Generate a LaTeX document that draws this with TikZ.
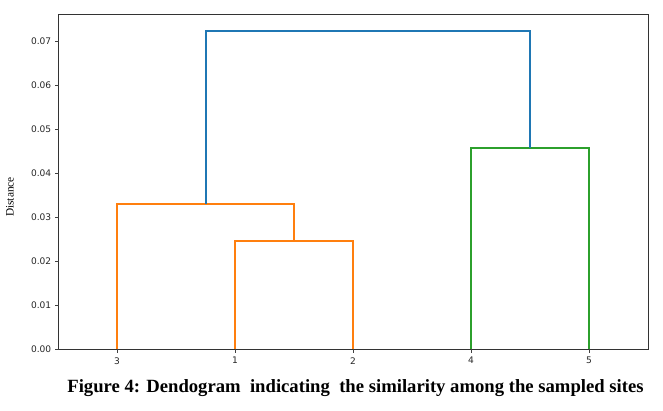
\documentclass[tikz,border=0pt]{standalone}
\usepackage{fontspec}
\setmainfont{Liberation Serif}
\newfontfamily\ticksfont{DejaVu Sans}
\definecolor{cblue}{HTML}{1F77B4}
\definecolor{corange}{HTML}{FF7F0E}
\definecolor{cgreen}{HTML}{2CA02C}
\begin{document}
\begin{tikzpicture}[x=0.75pt,y=-0.75pt,
  link/.style={line width=1.5*0.75pt, line join=miter},
  ticklab/.style={font=\ticksfont\fontsize{6.8pt}{8pt}\selectfont, text=black!85, inner sep=0pt},
  tickmark/.style={line width=0.6pt, black!75}]
\useasboundingbox (0,0) rectangle (663,410);
% leaf coordinates
\coordinate (L3) at (117,349);
\coordinate (L1) at (235,349);
\coordinate (L2) at (353,349);
\coordinate (L4) at (471,349);
\coordinate (L5) at (589,349);
% merge heights (px): y = 349 - 44*value/0.01
\coordinate (A1) at (235,241.2); \coordinate (A2) at (353,241.2); % 0.0245
\coordinate (B1) at (117,203.8); \coordinate (B2) at (294,203.8); % 0.033
\coordinate (G1) at (471,148); \coordinate (G2) at (589,148);     % 0.0457
\coordinate (T1) at (206,30.9); \coordinate (T2) at (530,30.9);   % 0.0723
% links
\draw[link, corange] (L1) -- (A1) -- (A2) -- (L2);
\draw[link, corange] (L3) -- (B1) -- (B2) -- (294,241.2);
\draw[link, cgreen] (L4) -- (G1) -- (G2) -- (L5);
\draw[link, cblue] (206,203.8) -- (T1) -- (T2) -- (530,148);
% axes box
\draw[line width=0.75pt, black!80] (58.5,15) rectangle (648.5,349);
% y ticks
\foreach \v/\lab in {0/0.00,1/0.01,2/0.02,3/0.03,4/0.04,5/0.05,6/0.06,7/0.07}{
  \draw[tickmark] (58.5,349-44*\v) -- (54.5,349-44*\v);
  \node[ticklab, anchor=east] (yt\v) at (51.5,349-44*\v) {\lab};
}
% x ticks
\foreach \n/\x in {3/117,1/235,2/353,4/471,5/589}{
  \draw[tickmark] (\x,349) -- (\x,353);
  \node[ticklab, anchor=north] (xt\n) at (\x,357) {\n};
}
% y label
\node[rotate=90, font=\fontsize{8.5pt}{9pt}\selectfont, inner sep=0pt] (ylab) at (10,197) {Distance};
% caption
\node[font=\bfseries\fontsize{14pt}{16pt}\selectfont, inner sep=0pt] (cap) at (355.5,388) {Figure 4: Dendogram\ \ indicating\ \ the similarity among the sampled sites};
\end{tikzpicture}
\end{document}
